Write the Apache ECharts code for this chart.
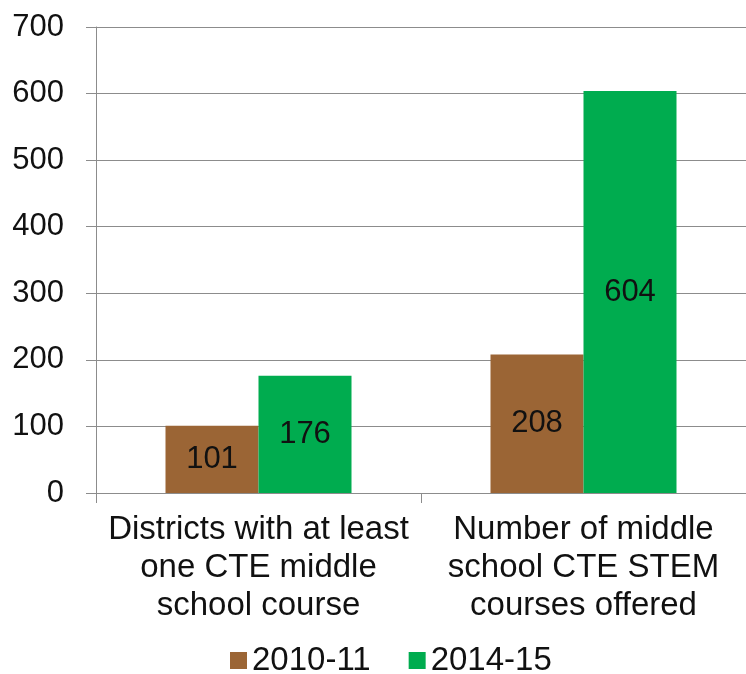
<!DOCTYPE html>
<html>
<head>
<meta charset="utf-8">
<script src="https://cdn.jsdelivr.net/npm/echarts@6/dist/echarts.min.js"></script>
<style>
html,body{margin:0;padding:0;background:#fff;}
#c{width:746px;height:674px;}
</style>
</head>
<body>
<div id="c"></div>
<script>
const categories = ["Districts with at least\none CTE middle\nschool course", "Number of middle\nschool CTE STEM\ncourses offered"];
const seriesNames = ["2010-11", "2014-15"];
const values2010 = [101, 208];
const values2014 = [176, 604];
const yTicks = [0, 100, 200, 300, 400, 500, 600, 700];

const font = "'Liberation Sans', Arial, sans-serif";
const chart = echarts.init(document.getElementById('c'), null, {renderer: 'canvas'});
chart.setOption({
  animation: false,
  backgroundColor: '#ffffff',
  textStyle: {fontFamily: font},
  grid: {left: 96, top: 27, bottom: 181, width: 656, containLabel: false},
  legend: {
    data: seriesNames,
    left: 230,
    top: 644,
    padding: 0,
    itemWidth: 17,
    itemHeight: 17,
    itemGap: 38,
    icon: 'rect',
    textStyle: {fontFamily: font, fontSize: 33, color: '#111', lineHeight: 33, padding: [0, 0, 0, 0]}
  },
  xAxis: {
    type: 'category',
    data: categories,
    axisLine: {show: true, lineStyle: {color: '#8c8c8c', width: 1}},
    axisTick: {show: true, length: 10, alignWithLabel: false, lineStyle: {color: '#8c8c8c'}},
    axisLabel: {fontFamily: font, fontSize: 33, color: '#111', lineHeight: 38, margin: 18, interval: 0, align: 'center'}
  },
  yAxis: {
    type: 'value',
    min: yTicks[0],
    max: yTicks[yTicks.length - 1],
    interval: 100,
    axisLine: {show: true, lineStyle: {color: '#8c8c8c', width: 1}},
    axisTick: {show: true, length: 10, lineStyle: {color: '#8c8c8c'}},
    axisLabel: {fontFamily: font, fontSize: 31, color: '#111', margin: 32},
    splitLine: {show: true, lineStyle: {color: '#8c8c8c', width: 1}}
  },
  series: [
    {
      name: seriesNames[0],
      type: 'bar',
      data: values2010,
      barWidth: 93,
      barGap: '0%',
      itemStyle: {color: '#9b6535'},
      label: {show: true, position: 'inside', fontFamily: font, fontSize: 31, color: '#111'}
    },
    {
      name: seriesNames[1],
      type: 'bar',
      data: values2014,
      barWidth: 93,
      barGap: '0%',
      itemStyle: {color: '#00ac4f'},
      label: {show: true, position: 'inside', fontFamily: font, fontSize: 31, color: '#111'}
    }
  ]
});
</script>
</body>
</html>
